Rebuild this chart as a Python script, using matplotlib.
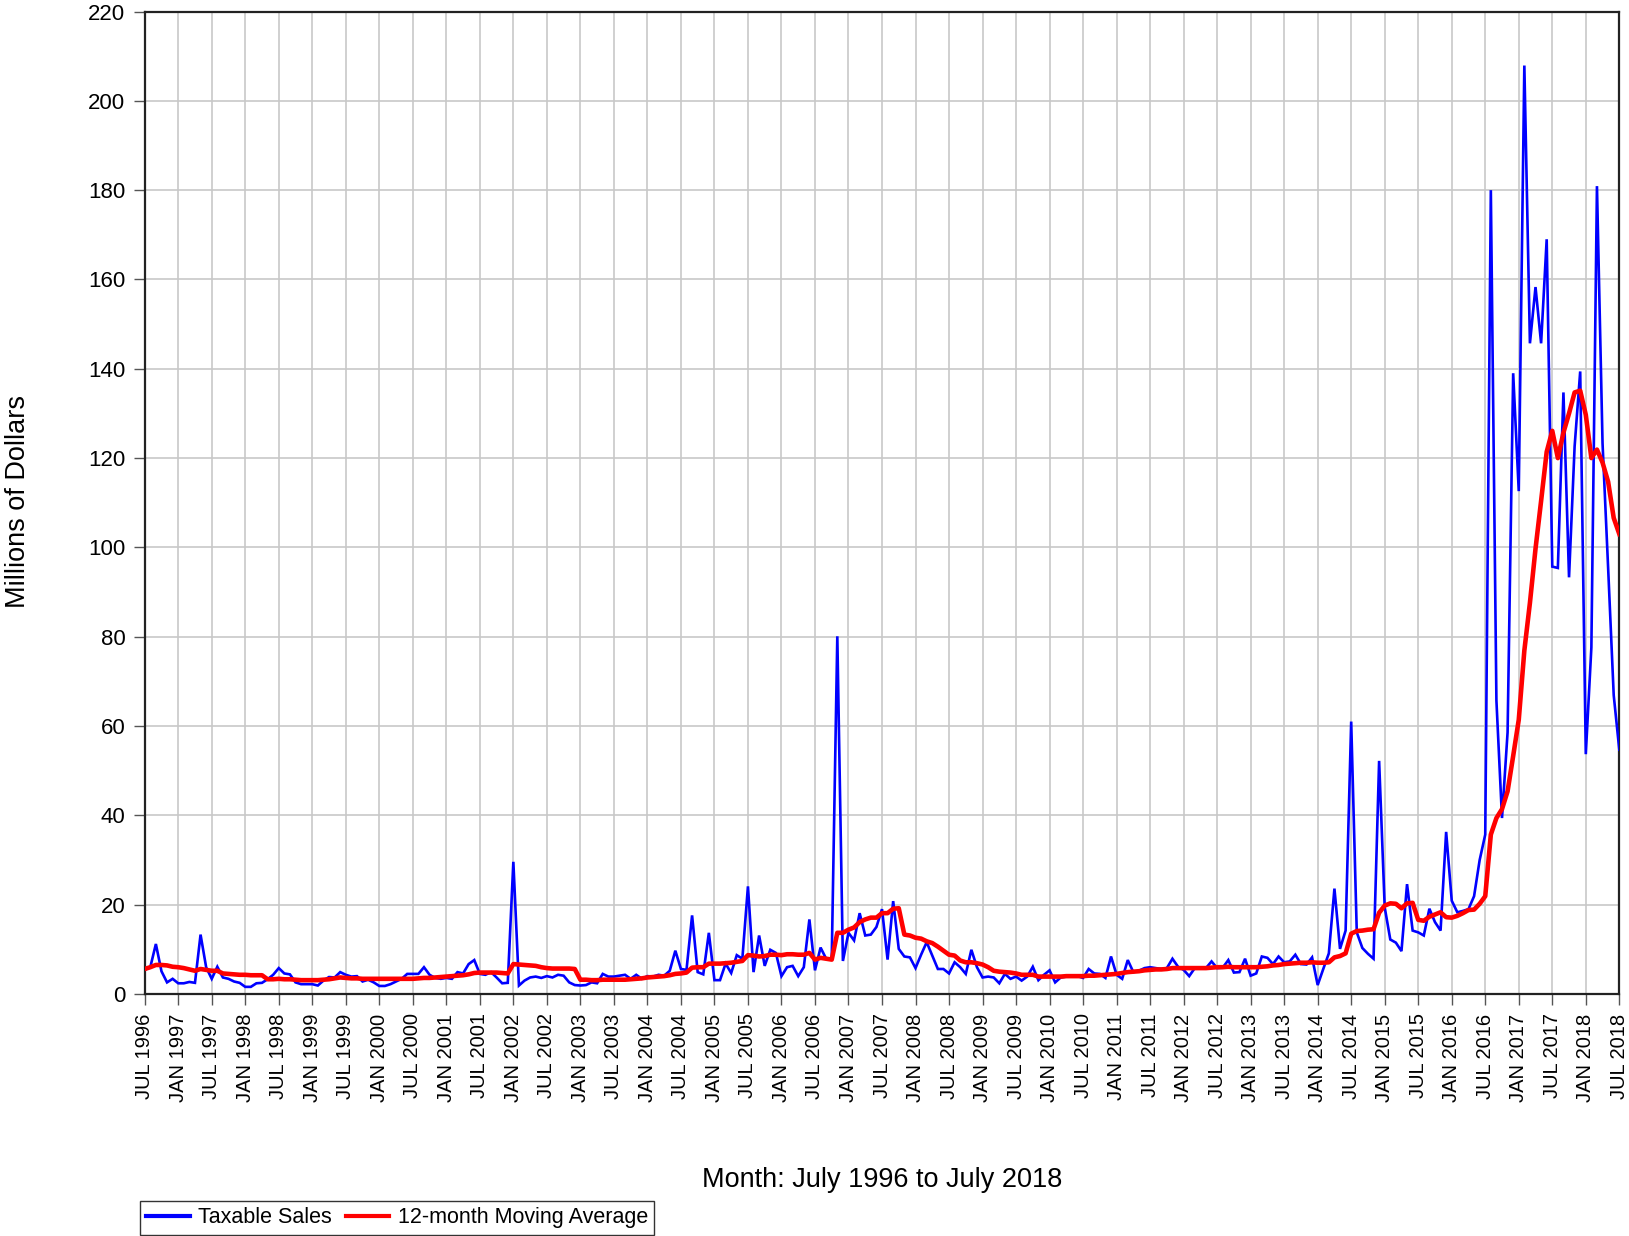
import matplotlib
matplotlib.use("Agg")
import matplotlib.pyplot as plt

# ---------------- data (millions of dollars), monthly Jul 1996 .. Jul 2018 ----------------
taxable_sales = [
    5.4, 6.0, 11.2, 5.1, 2.6, 3.4, 2.4, 2.4, 2.7, 2.5, 13.3, 6.0,
    3.4, 6.1, 3.7, 3.4, 2.8, 2.5, 1.6, 1.6, 2.4, 2.5, 3.3, 4.3,
    5.8, 4.6, 4.4, 2.6, 2.2, 2.2, 2.2, 1.9, 3.0, 3.8, 3.7, 4.9,
    4.3, 3.9, 4.0, 2.8, 3.2, 2.6, 1.8, 1.8, 2.2, 2.8, 3.4, 4.5,
    4.5, 4.5, 6.0, 4.3, 3.6, 3.4, 3.6, 3.4, 4.9, 4.6, 6.7, 7.6,
    4.5, 4.3, 4.9, 3.7, 2.4, 2.5, 29.6, 1.9, 3.0, 3.7, 3.9, 3.6,
    4.0, 3.7, 4.3, 4.1, 2.6, 2.0, 1.9, 2.0, 2.6, 2.4, 4.5, 3.9,
    3.9, 4.1, 4.3, 3.4, 4.3, 3.4, 4.0, 3.9, 4.3, 4.1, 5.2, 9.7,
    5.6, 5.4, 17.6, 4.9, 4.4, 13.7, 3.1, 3.1, 6.8, 4.7, 8.7, 7.9,
    24.1, 4.9, 13.1, 6.3, 9.9, 9.2, 4.0, 6.0, 6.3, 4.0, 6.0, 16.7,
    5.3, 10.4, 7.9, 7.9, 80.1, 7.4, 13.7, 12.0, 18.1, 13.1, 13.3, 15.0,
    19.0, 7.7, 20.8, 10.1, 8.4, 8.2, 5.8, 8.8, 11.6, 8.6, 5.6, 5.6,
    4.6, 7.1, 6.0, 4.5, 9.9, 6.0, 3.7, 3.9, 3.7, 2.4, 4.5, 3.4,
    3.9, 3.0, 3.9, 6.1, 3.1, 4.3, 5.3, 2.6, 3.7, 3.9, 3.9, 4.0,
    3.6, 5.6, 4.6, 4.5, 3.6, 8.4, 4.3, 3.4, 7.6, 4.9, 5.2, 5.8,
    6.0, 5.8, 5.6, 5.8, 7.9, 6.1, 5.4, 4.0, 5.8, 5.8, 5.8, 7.3,
    5.8, 5.9, 7.6, 4.8, 4.9, 7.9, 4.1, 4.6, 8.4, 8.1, 6.7, 8.4,
    7.1, 7.3, 8.8, 6.7, 6.6, 8.2, 2.0, 5.6, 9.1, 23.6, 10.1, 14.2,
    61.0, 13.8, 10.3, 9.0, 7.9, 52.2, 19.4, 12.2, 11.5, 9.6, 24.6, 14.2,
    13.8, 13.1, 19.1, 16.1, 14.2, 36.3, 20.9, 18.3, 18.6, 19.0, 21.9, 30.0,
    35.7, 180.0, 65.7, 39.4, 58.6, 139.0, 112.6, 207.9, 145.7, 158.3, 145.7, 169.0,
    95.7, 95.4, 134.7, 93.3, 122.6, 139.4, 53.7, 77.6, 180.9, 123.3, 95.4, 66.9,
    54.7,
]

moving_average = [
    5.6, 6.0, 6.5, 6.5, 6.4, 6.1, 6.0, 5.8, 5.5, 5.2, 5.6, 5.4,
    5.2, 5.2, 4.6, 4.5, 4.4, 4.3, 4.3, 4.2, 4.2, 4.2, 3.3, 3.3,
    3.4, 3.3, 3.3, 3.2, 3.1, 3.1, 3.1, 3.1, 3.2, 3.3, 3.5, 3.7,
    3.6, 3.5, 3.5, 3.4, 3.4, 3.4, 3.4, 3.4, 3.4, 3.4, 3.4, 3.4,
    3.4, 3.5, 3.6, 3.6, 3.7, 3.8, 3.9, 4.0, 4.1, 4.2, 4.4, 4.7,
    4.8, 4.8, 4.8, 4.8, 4.7, 4.6, 6.7, 6.6, 6.5, 6.4, 6.3, 6.0,
    5.8, 5.7, 5.7, 5.7, 5.7, 5.6, 3.2, 3.2, 3.1, 3.1, 3.2, 3.2,
    3.2, 3.2, 3.2, 3.3, 3.4, 3.5, 3.7, 3.8, 3.9, 4.0, 4.2, 4.5,
    4.6, 4.8, 5.9, 6.0, 6.0, 6.8, 6.8, 6.8, 6.9, 7.0, 7.2, 7.4,
    8.7, 8.6, 8.4, 8.5, 8.8, 8.8, 8.7, 8.9, 8.9, 8.8, 8.8, 9.2,
    7.7, 8.1, 7.9, 7.7, 13.7, 13.7, 14.4, 14.9, 16.1, 16.7, 17.1, 17.1,
    18.1, 18.1, 19.1, 19.2, 13.3, 13.1, 12.6, 12.4, 11.8, 11.4, 10.6, 9.7,
    8.8, 8.6, 7.5, 7.1, 7.1, 6.9, 6.6, 6.0, 5.2, 5.0, 4.9, 4.8,
    4.6, 4.3, 4.3, 4.3, 3.9, 3.9, 3.9, 3.9, 3.9, 4.0, 4.0, 4.0,
    4.0, 4.1, 4.1, 4.2, 4.3, 4.4, 4.5, 4.7, 4.9, 5.0, 5.1, 5.3,
    5.4, 5.5, 5.5, 5.6, 5.8, 5.8, 5.8, 5.8, 5.8, 5.8, 5.8, 5.9,
    6.0, 6.0, 6.1, 6.0, 6.0, 6.0, 6.0, 6.0, 6.1, 6.2, 6.4, 6.5,
    6.7, 6.8, 6.9, 7.0, 7.0, 7.1, 7.0, 7.0, 7.1, 8.2, 8.5, 9.1,
    13.5, 14.1, 14.2, 14.4, 14.5, 18.2, 19.8, 20.3, 20.2, 19.2, 20.3, 20.4,
    16.6, 16.4, 17.3, 17.8, 18.3, 17.2, 17.1, 17.5, 18.1, 18.8, 18.9, 20.2,
    21.9, 35.7, 39.4, 41.4, 45.4, 53.3, 61.4, 76.9, 87.6, 99.7, 110.4, 121.4,
    126.1, 120.0, 125.7, 130.0, 134.7, 135.1, 129.7, 120.0, 121.9, 119.0, 114.7, 106.6,
    103.0,
]

first_year = 1996
last_year = 2018
tick_labels = []
for y in range(first_year, last_year + 1):
    if y > first_year:
        tick_labels.append(f"JAN {y}")
    tick_labels.append(f"JUL {y}")
y_ticks = list(range(0, 221, 20))

series_names = ["Taxable Sales", "12-month Moving Average"]
x_title = "Month: July 1996 to July 2018"
y_title = "Millions of Dollars"

# ---------------- figure ----------------
plt.rcParams["font.family"] = ["Liberation Sans", "DejaVu Sans"]
W, H = 1629, 1236
fig = plt.figure(figsize=(W / 100, H / 100), dpi=100)
left, right, top, bottom = 144.7, 1619.3, 11.5, 994.0
ax = fig.add_axes([left / W, (H - bottom) / H, (right - left) / W, (bottom - top) / H])

months = list(range(len(taxable_sales)))
l1, = ax.plot(months, taxable_sales, color="#0000ff", lw=1.9, zorder=3, solid_joinstyle="miter")
l2, = ax.plot(months, moving_average, color="#ff0000", lw=3.3, zorder=4)

ax.set_xlim(0, len(taxable_sales) - 1)
ax.set_ylim(0, 220)
ax.set_xticks(list(range(0, len(taxable_sales), 6)))
ax.set_xticklabels(tick_labels, rotation=90, fontsize=14.5)
ax.set_yticks(y_ticks)
ax.set_yticklabels([str(v) for v in y_ticks], fontsize=16)

ax.grid(True, color="#c8c8c8", lw=1.2, zorder=0)
ax.set_axisbelow(True)
ax.tick_params(axis="both", direction="out", length=8, width=1.0, color="#555555", pad=6)
for s in ax.spines.values():
    s.set_linewidth(1.6)
    s.set_color("#222222")

fig.text((left + right) / 2 / W, 1 - 1180 / H, x_title, ha="center", va="center", fontsize=19.5)
fig.text(18 / W, 1 - 502 / H, y_title, ha="center", va="center", rotation=90, fontsize=19.5)

leg = fig.legend([l1, l2], series_names, loc="lower left",
                 bbox_to_anchor=(140 / W, 1.5 / H), bbox_transform=fig.transFigure,
                 ncol=2, fontsize=15.5, frameon=True, fancybox=False, shadow=False,
                 borderaxespad=0, handlelength=2.0, handletextpad=0.4, columnspacing=0.65,
                 borderpad=0.3)
leg.get_frame().set_edgecolor("#000000")
leg.get_frame().set_linewidth(1.0)
for h in leg.get_lines():
    h.set_linewidth(3.0)

fig.savefig("out.png", dpi=100)
